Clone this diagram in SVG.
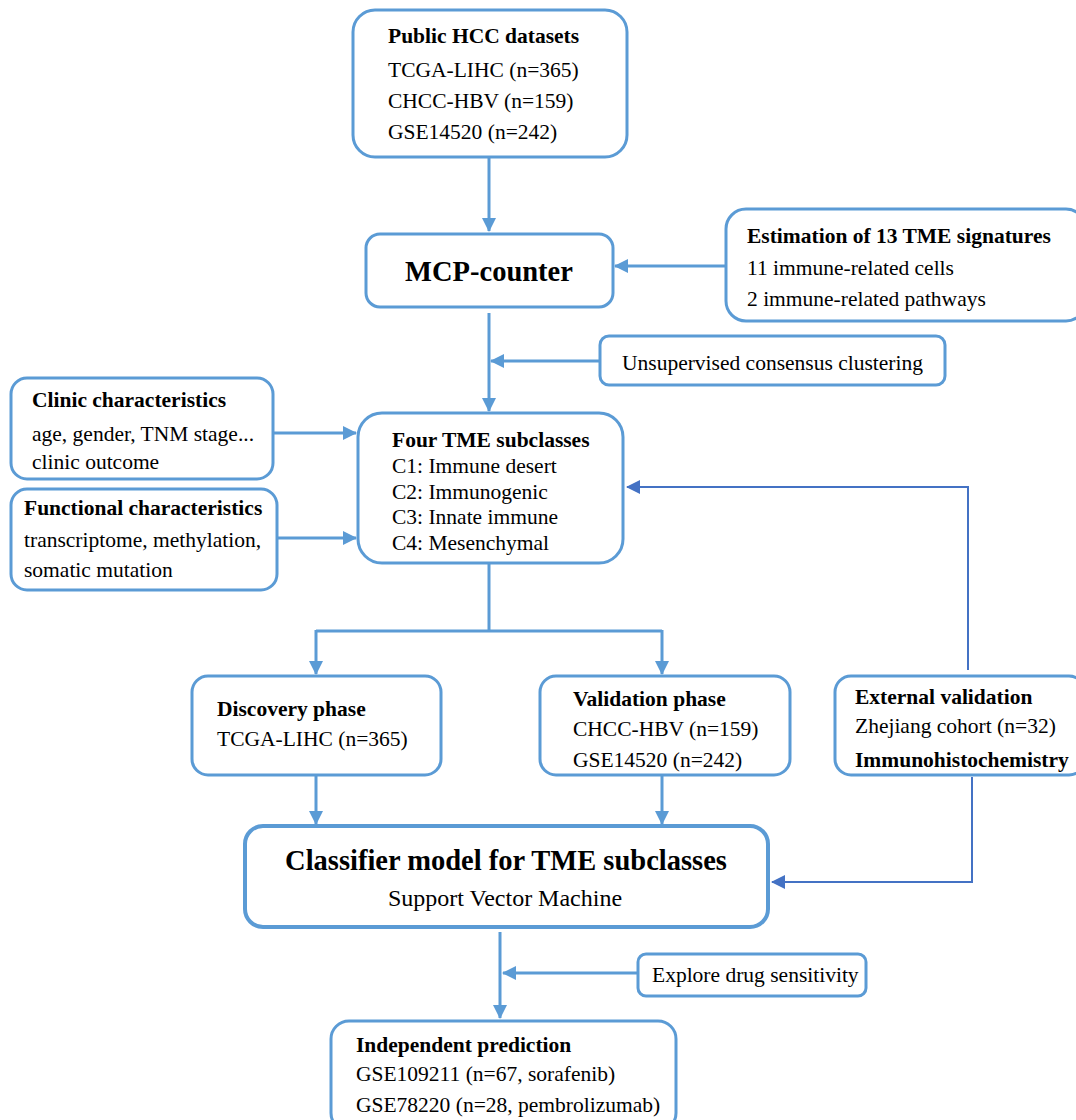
<svg xmlns="http://www.w3.org/2000/svg" width="1076" height="1120" viewBox="0 0 1076 1120">
<defs>
<marker id="ah" markerUnits="userSpaceOnUse" markerWidth="14" markerHeight="14" viewBox="0 0 14 14" refX="13" refY="7" orient="auto"><path d="M0,0 L14,7 L0,14 Z" fill="#5B9BD5"/></marker>
<marker id="ahd" markerUnits="userSpaceOnUse" markerWidth="14" markerHeight="14" viewBox="0 0 14 14" refX="13" refY="7" orient="auto"><path d="M0,0 L14,7 L0,14 Z" fill="#4472C4"/></marker>
</defs>
<style>
.box{fill:#fff;stroke:#5B9BD5;stroke-width:3}
.t{font-family:"Liberation Serif","Times New Roman",serif;font-size:21.5px;fill:#000}
.b{font-weight:bold}
.big{font-size:28.5px;font-weight:bold}
.c{fill:none;stroke:#5B9BD5;stroke-width:3}
.d{fill:none;stroke:#4472C4;stroke-width:2}
</style>
<rect width="1076" height="1120" fill="#fff"/>
<g id="connectors">
<path class="c" d="M489,158 V231" marker-end="url(#ah)"/>
<path class="c" d="M726,266 H615" marker-end="url(#ah)"/>
<path class="c" d="M489,313 V411" marker-end="url(#ah)"/>
<path class="c" d="M600,361 H491" marker-end="url(#ah)"/>
<path class="c" d="M273,433 H356" marker-end="url(#ah)"/>
<path class="c" d="M277,538 H356" marker-end="url(#ah)"/>
<path class="c" d="M489,563 V631"/>
<path class="c" d="M316,631 H662"/>
<path class="c" d="M316,630 V674" marker-end="url(#ah)"/>
<path class="c" d="M662,630 V674" marker-end="url(#ah)"/>
<path class="c" d="M316,775 V824" marker-end="url(#ah)"/>
<path class="c" d="M662,775 V824" marker-end="url(#ah)"/>
<path class="d" d="M968,670 V487 H627" marker-end="url(#ahd)"/>
<path class="d" d="M972,777 V882 H772" marker-end="url(#ahd)"/>
<path class="c" d="M500,932 V1018" marker-end="url(#ah)"/>
<path class="c" d="M638,973 H503" marker-end="url(#ah)"/>
</g>
<g id="public">
<rect class="box" x="353" y="10" width="274" height="147" rx="22"/>
<text class="t b" x="388" y="43">Public HCC datasets</text>
<text class="t" x="388" y="77">TCGA-LIHC (n=365)</text>
<text class="t" x="388" y="108">CHCC-HBV (n=159)</text>
<text class="t" x="388" y="139">GSE14520 (n=242)</text>
</g>
<g id="mcp">
<rect class="box" x="366" y="234" width="247" height="73" rx="14"/>
<text class="t big" x="489" y="281" text-anchor="middle">MCP-counter</text>
</g>
<g id="estimation">
<rect class="box" x="726" y="209" width="360" height="112" rx="20"/>
<text class="t b" x="747" y="243">Estimation of 13 TME signatures</text>
<text class="t" x="747" y="275">11 immune-related cells</text>
<text class="t" x="747" y="306">2 immune-related pathways</text>
</g>
<g id="unsupervised">
<rect class="box" x="600" y="336" width="345" height="49" rx="9"/>
<text class="t" x="622" y="370">Unsupervised consensus clustering</text>
</g>
<g id="clinic">
<rect class="box" x="11" y="378" width="262" height="101" rx="16"/>
<text class="t b" x="32" y="407">Clinic characteristics</text>
<text class="t" x="32" y="441">age, gender, TNM stage...</text>
<text class="t" x="32" y="469">clinic outcome</text>
</g>
<g id="functional">
<rect class="box" x="11" y="489" width="266" height="101" rx="16"/>
<text class="t b" x="24" y="515">Functional characteristics</text>
<text class="t" x="24" y="547">transcriptome, methylation,</text>
<text class="t" x="24" y="577">somatic mutation</text>
</g>
<g id="four">
<rect class="box" x="358" y="413" width="265" height="150" rx="24"/>
<text class="t b" x="392" y="447">Four TME subclasses</text>
<text class="t" x="392" y="473">C1: Immune desert</text>
<text class="t" x="392" y="499">C2: Immunogenic</text>
<text class="t" x="392" y="524">C3: Innate immune</text>
<text class="t" x="392" y="550">C4: Mesenchymal</text>
</g>
<g id="discovery">
<rect class="box" x="192" y="676" width="249" height="99" rx="16"/>
<text class="t b" x="217" y="716">Discovery phase</text>
<text class="t" x="217" y="746">TCGA-LIHC (n=365)</text>
</g>
<g id="validation">
<rect class="box" x="540" y="676" width="250" height="99" rx="16"/>
<text class="t b" x="573" y="706">Validation phase</text>
<text class="t" x="573" y="736">CHCC-HBV (n=159)</text>
<text class="t" x="573" y="767">GSE14520 (n=242)</text>
</g>
<g id="external">
<rect class="box" x="835" y="676" width="250" height="99" rx="16"/>
<text class="t b" x="855" y="704">External validation</text>
<text class="t" x="855" y="733">Zhejiang cohort (n=32)</text>
<text class="t b" x="855" y="767">Immunohistochemistry</text>
</g>
<g id="classifier">
<rect class="box" x="245" y="826" width="523" height="101" rx="18" style="stroke-width:4"/>
<text class="t big" x="506" y="870" text-anchor="middle">Classifier model for TME subclasses</text>
<text class="t" x="505" y="906" text-anchor="middle" style="font-size:24px">Support Vector Machine</text>
</g>
<g id="explore">
<rect class="box" x="638" y="954" width="228" height="42" rx="8"/>
<text class="t" x="652" y="982">Explore drug sensitivity</text>
</g>
<g id="independent">
<rect class="box" x="331" y="1021" width="345" height="110" rx="18"/>
<text class="t b" x="356" y="1052">Independent prediction</text>
<text class="t" x="356" y="1081">GSE109211 (n=67, sorafenib)</text>
<text class="t" x="356" y="1112">GSE78220 (n=28, pembrolizumab)</text>
</g>
</svg>
